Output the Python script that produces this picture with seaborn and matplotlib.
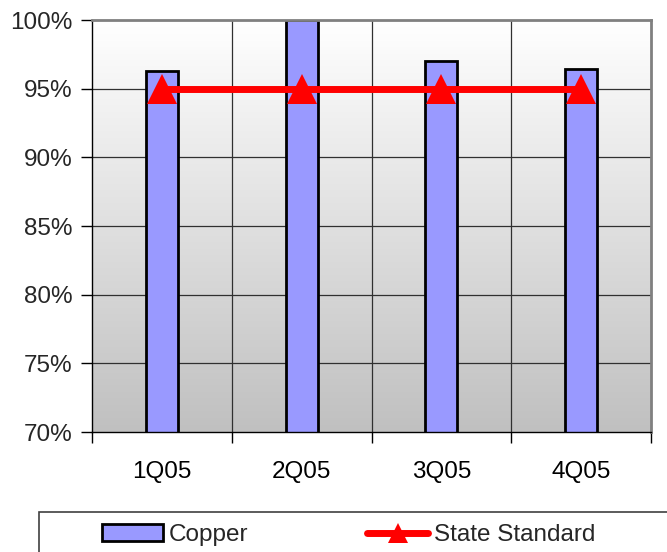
import numpy as np
import pandas as pd
import matplotlib
matplotlib.use("Agg")
import matplotlib.pyplot as plt
from matplotlib.patches import Rectangle, Patch
from matplotlib.lines import Line2D
import seaborn as sns

quarters = ["1Q05", "2Q05", "3Q05", "4Q05"]
copper = [96.3, 100.0, 97.0, 96.4]
state_standard = [95.0, 95.0, 95.0, 95.0]
y_ticks = [70, 75, 80, 85, 90, 95, 100]

sns.set_theme(style="white")
plt.rcParams["font.family"] = ["Liberation Sans", "DejaVu Sans"]

FS = 17.5

df = pd.DataFrame({"quarter": quarters, "copper": copper, "standard": state_standard})

fig = plt.figure(figsize=(6.67, 5.52), dpi=100)
ax = fig.add_axes([92 / 667, 1 - 432 / 552, (651 - 92) / 667, (432 - 20) / 552])

# vertical white-to-gray background
grad = np.linspace(1.0, 0.0, 256).reshape(-1, 1)
ax.imshow(grad, extent=[0, 1, 0, 1], transform=ax.transAxes, aspect="auto",
          cmap=matplotlib.colors.LinearSegmentedColormap.from_list("bg", ["#c0c0c0", "#ffffff"]),
          vmin=0, vmax=1, zorder=0)

sns.barplot(data=df, x="quarter", y="copper", ax=ax, color="#9999ff",
            width=0.23, edgecolor="black", linewidth=2, saturation=1, zorder=3)
sns.lineplot(data=df, x="quarter", y="standard", ax=ax, color="#ff0000",
             linewidth=5, marker="^", markersize=21, markeredgewidth=0, zorder=4)

ax.set_xlim(-0.5, 3.5)
ax.set_ylim(70, 100)
ax.set_yticks(y_ticks)
ax.set_yticklabels([f"{v}%" for v in y_ticks], fontsize=FS)
ax.set_xticks(range(len(quarters)))
ax.set_xticklabels(quarters, fontsize=FS)
ax.set_xticks(np.arange(-0.5, 4.0, 1.0), minor=True)
ax.tick_params(axis="x", which="major", length=0, pad=21, colors="black")
ax.tick_params(axis="x", which="minor", length=8, width=1, color="black", direction="out", bottom=True)
ax.tick_params(axis="y", length=8, width=1, color="black", direction="out", left=True, pad=6)
ax.set_xlabel("")
ax.set_ylabel("")

# gridlines
for y in y_ticks[1:-1]:
    ax.axhline(y, color="#303030", linewidth=0.9, zorder=1)
for x in [0.5, 1.5, 2.5]:
    ax.axvline(x, color="#303030", linewidth=0.9, zorder=1)

for side in ["left", "bottom"]:
    ax.spines[side].set_color("black")
    ax.spines[side].set_linewidth(1)
for side in ["top", "right"]:
    ax.spines[side].set_color("#808080")
    ax.spines[side].set_linewidth(2)
for s in ax.spines.values():
    s.set_visible(True)
    s.set_zorder(5)

# legend box
fig.patches.append(Rectangle((39 / 667, -0.1), 1.0, 0.1 + (552 - 512) / 552,
                             transform=fig.transFigure, facecolor="white",
                             edgecolor="#404040", linewidth=1.2))
handles = [
    Patch(facecolor="#9999ff", edgecolor="black", linewidth=2),
    Line2D([0], [0], color="#ff0000", linewidth=5, marker="^", markersize=14, markeredgewidth=0),
]
fig.legend(handles, ["Copper", "State Standard"], loc="center left",
           bbox_to_anchor=(102 / 667, 1 - 535 / 552), ncol=2, frameon=False,
           fontsize=FS, handlelength=2.5, handleheight=0.65, handletextpad=0.25,
           columnspacing=4.9, borderpad=0, borderaxespad=0)

fig.savefig("out.png", dpi=100)
